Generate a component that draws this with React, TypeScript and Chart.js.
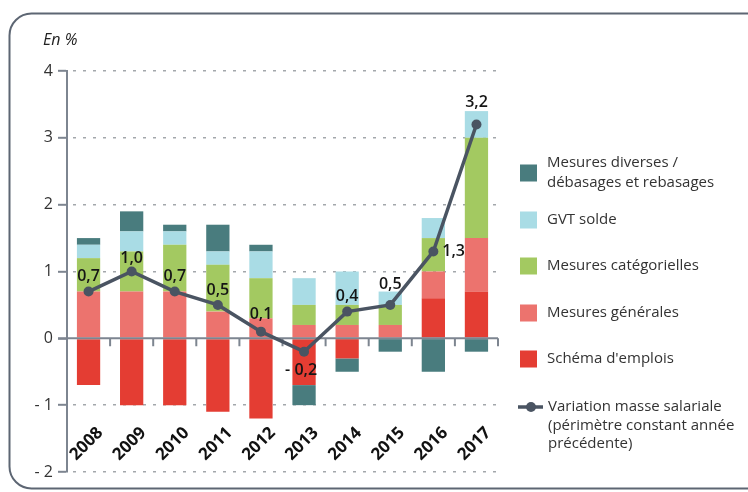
import React, { useEffect, useRef } from 'react';
import { Chart, registerables } from 'chart.js';

Chart.register(...registerables);

// ---- Data ----
const years = ['2008', '2009', '2010', '2011', '2012', '2013', '2014', '2015', '2016', '2017'];
const schemaEmplois = [-0.7, -1.0, -1.0, -1.1, -1.2, -0.7, -0.3, 0, 0.6, 0.7];
const mesuresGenerales = [0.7, 0.7, 0.7, 0.4, 0.3, 0.2, 0.2, 0.2, 0.4, 0.8];
const mesuresCategorielles = [0.5, 0.6, 0.7, 0.7, 0.6, 0.3, 0.3, 0.3, 0.5, 1.5];
const gvtSolde = [0.2, 0.3, 0.2, 0.2, 0.4, 0.4, 0.5, 0.2, 0.3, 0.4];
const mesuresDiverses = [0.1, 0.3, 0.1, 0.4, 0.1, -0.3, -0.2, -0.2, -0.5, -0.2];
const variationMasse = [0.7, 1.0, 0.7, 0.5, 0.1, -0.2, 0.4, 0.5, 1.3, 3.2];
const yMin = -2;
const yMax = 4;

// ---- Styles ----
const FONT = '"Open Sans", "Noto Sans", sans-serif';
const C_RED = '#e43d33';
const C_PINK = '#ec736e';
const C_GREEN = '#a3c961';
const C_BLUE = '#a9dce5';
const C_TEAL = '#497c7e';
const C_LINE = '#4a5462';
const C_AXIS = '#7d8590';
const C_GRID = '#a3a7ab';
// label offsets (dx, dy) relative to each line point
const labelOffsets: [number, number][] = [
  [0, -15], [0, -13], [0, -15], [0, -14], [0, -17], [-3, 19], [0, -15], [0, -20], [9, 0], [0, -22],
];
const legendY = [173, 220, 266, 313, 359, 407];

function fmt(v: number): string {
  const s = Math.abs(v).toFixed(1).replace('.', ',');
  return v < 0 ? '- ' + s : s;
}

const customPlugin = {
  id: 'customDecor',
  beforeDraw(chart: any) {
    const ctx = chart.ctx as CanvasRenderingContext2D;
    ctx.save();
    ctx.fillStyle = '#ffffff';
    ctx.fillRect(0, 0, chart.width, chart.height);
    // rounded frame
    const x0 = 9.5, y0 = 13.5, x1 = 790, y1 = 488.5, r = 22;
    ctx.strokeStyle = '#5d6673';
    ctx.lineWidth = 2;
    ctx.beginPath();
    ctx.moveTo(x0 + r, y0);
    ctx.lineTo(x1 - r, y0);
    ctx.arcTo(x1, y0, x1, y0 + r, r);
    ctx.lineTo(x1, y1 - r);
    ctx.arcTo(x1, y1, x1 - r, y1, r);
    ctx.lineTo(x0 + r, y1);
    ctx.arcTo(x0, y1, x0, y1 - r, r);
    ctx.lineTo(x0, y0 + r);
    ctx.arcTo(x0, y0, x0 + r, y0, r);
    ctx.closePath();
    ctx.stroke();
    // unit title
    ctx.font = 'italic 16px ' + FONT;
    ctx.fillStyle = '#222';
    ctx.textBaseline = 'middle';
    ctx.textAlign = 'left';
    ctx.fillText('En %', 43, 40);
    ctx.restore();
  },
  beforeDatasetDraw(chart: any, args: any) {
    if (args.index !== 5) return;
    const ctx = chart.ctx as CanvasRenderingContext2D;
    const xs = chart.scales.x;
    const y0 = chart.scales.y.getPixelForValue(0);
    const { left, right } = chart.chartArea;
    ctx.save();
    ctx.strokeStyle = C_AXIS;
    ctx.lineWidth = 2;
    ctx.beginPath();
    ctx.moveTo(left - 9, y0);
    ctx.lineTo(right, y0);
    ctx.stroke();
    const n = years.length;
    const step = xs.getPixelForValue(1) - xs.getPixelForValue(0);
    ctx.beginPath();
    for (let i = 0; i < n; i++) {
      const bx = xs.getPixelForValue(i) + step / 2;
      ctx.moveTo(bx, y0);
      ctx.lineTo(bx, y0 + 8);
    }
    ctx.stroke();
    ctx.restore();
  },
  afterDatasetsDraw(chart: any) {
    const ctx = chart.ctx as CanvasRenderingContext2D;
    const xs = chart.scales.x;
    const ys = chart.scales.y;
    ctx.save();
    // value labels
    ctx.font = '600 16px ' + FONT;
    ctx.fillStyle = '#151515';
    ctx.textBaseline = 'middle';
    const lineMeta = chart.getDatasetMeta(5);
    lineMeta.data.forEach((pt: any, i: number) => {
      const [dx, dy] = labelOffsets[i];
      ctx.textAlign = dx > 5 ? 'left' : 'center';
      ctx.fillText(fmt(variationMasse[i]), pt.x + dx, pt.y + dy);
    });
    // category labels, rotated
    ctx.font = 'bold 17px ' + FONT;
    ctx.fillStyle = '#111';
    ctx.textAlign = 'center';
    const ly = ys.getPixelForValue(-1.58);
    years.forEach((yr, i) => {
      const cx = xs.getPixelForValue(i);
      ctx.save();
      ctx.translate(cx - 2, ly);
      ctx.rotate(-Math.PI / 4);
      ctx.fillText(yr, 0, 0);
      ctx.restore();
    });
    // legend
    const ds = chart.data.datasets;
    const order = [4, 3, 2, 1, 0, 5];
    ctx.font = '15px ' + FONT;
    ctx.fillStyle = '#333';
    ctx.textAlign = 'left';
    order.forEach((di, k) => {
      const d = ds[di];
      const lines = String(d.label).split('\n');
      const cy = legendY[k];
      if (d.type === 'line') {
        ctx.strokeStyle = C_LINE;
        ctx.lineWidth = 3.5;
        ctx.beginPath();
        ctx.moveTo(518, cy);
        ctx.lineTo(543, cy);
        ctx.stroke();
        ctx.fillStyle = C_LINE;
        ctx.beginPath();
        ctx.arc(531, cy, 5, 0, Math.PI * 2);
        ctx.fill();
        ctx.fillStyle = '#333';
        lines.forEach((t, j) => ctx.fillText(t, 548, cy + j * 18.5));
      } else {
        ctx.fillStyle = d.backgroundColor;
        ctx.fillRect(520, cy - 8.5, 17, 17);
        ctx.fillStyle = '#333';
        const startY = cy - ((lines.length - 1) * 20) / 2;
        lines.forEach((t, j) => ctx.fillText(t, 547, startY + j * 20));
      }
    });
    ctx.restore();
  },
};

export default function App() {
  const canvasRef = useRef<HTMLCanvasElement | null>(null);

  useEffect(() => {
    if (!canvasRef.current) return;
    Chart.defaults.font.family = FONT;
    const barBase = { type: 'bar' as const, stack: 'bars', order: 1, borderWidth: 0, barPercentage: 0.54, categoryPercentage: 1 };
    const chart = new Chart(canvasRef.current, {
      type: 'bar',
      data: {
        labels: years,
        datasets: [
          { ...barBase, label: "Schéma d'emplois", data: schemaEmplois, backgroundColor: C_RED },
          { ...barBase, label: 'Mesures générales', data: mesuresGenerales, backgroundColor: C_PINK },
          { ...barBase, label: 'Mesures catégorielles', data: mesuresCategorielles, backgroundColor: C_GREEN },
          { ...barBase, label: 'GVT solde', data: gvtSolde, backgroundColor: C_BLUE },
          { ...barBase, label: 'Mesures diverses /\ndébasages et rebasages', data: mesuresDiverses, backgroundColor: C_TEAL },
          {
            type: 'line',
            label: 'Variation masse salariale\n(périmètre constant année\nprécédente)',
            data: variationMasse,
            stack: 'line',
            order: 0,
            borderColor: C_LINE,
            backgroundColor: C_LINE,
            borderWidth: 3.5,
            pointRadius: 5,
            pointBackgroundColor: C_LINE,
            pointBorderWidth: 0,
            tension: 0,
          } as any,
        ],
      },
      options: {
        responsive: false,
        animation: false,
        layout: { padding: { left: 0, top: 71, right: 250, bottom: 20 } },
        plugins: { legend: { display: false }, tooltip: { enabled: false } },
        scales: {
          x: { type: 'category', stacked: true, display: false },
          y: {
            type: 'linear',
            stacked: true,
            min: yMin,
            max: yMax,
            afterFit: (s: any) => { s.width = 67; },
            ticks: {
              stepSize: 1,
              color: '#333',
              font: { size: 16, family: FONT },
              padding: 5,
              callback: (v: any) => (Number(v) < 0 ? '- ' + Math.abs(Number(v)) : String(v)),
            },
            grid: {
              color: (c: any) => (c.tick && c.tick.value === 0 ? 'rgba(0,0,0,0)' : C_GRID),
              lineWidth: 1.6,
              drawTicks: true,
              tickLength: 9,
              tickColor: C_AXIS,
              tickWidth: 2,
            },
            border: { display: true, color: C_AXIS, width: 2, dash: [3, 7], dashOffset: -5 },
          },
        },
      } as any,
      plugins: [customPlugin],
    });
    return () => chart.destroy();
  }, []);

  return (
    <div style={{ position: 'fixed', left: 0, top: 0, width: 748, height: 492, background: '#fff' }}>
      <canvas ref={canvasRef} width={748} height={492} style={{ display: 'block', width: 748, height: 492 }} />
    </div>
  );
}
